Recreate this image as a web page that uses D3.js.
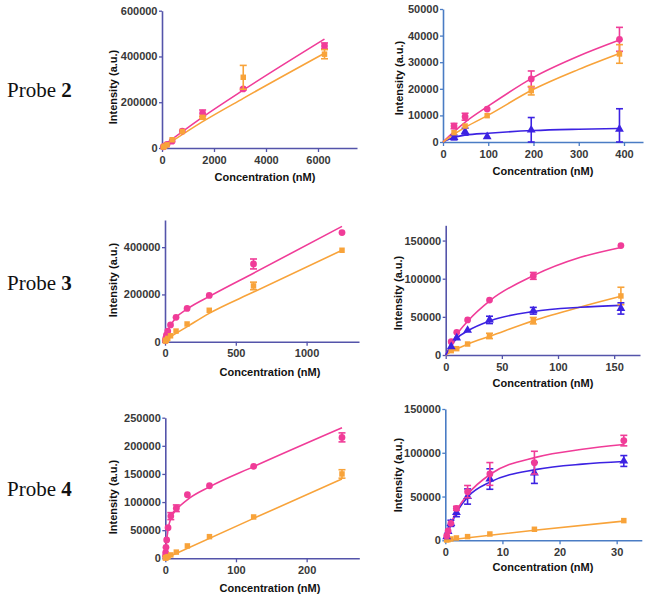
<!DOCTYPE html>
<html><head><meta charset="utf-8">
<script src="https://cdn.jsdelivr.net/npm/d3@7"></script>
<style>
html,body{margin:0;padding:0;background:#fff;}
svg{display:block;}
</style></head>
<body>
<script>
// ---------------- DATA ----------------
const probeLabels = ["2", "3", "4"];
const xTitle = "Concentration (nM)";
const yTitle = "Intensity (a.u.)";

// Probe 2, left
const p2L_x = [48.8, 97.6, 195, 390, 781, 1562, 3125, 6250];
const p2L_pink = [5000, 9000, 16000, 30000, 74000, 152000, 258000, 446000];
const p2L_pinkErr = [0, 0, 0, 0, 0, 14000, 4000, 13000];
const p2L_orange = [4000, 8000, 14000, 36000, 72000, 134000, 309000, 410000];
const p2L_orangeErr = [0, 0, 0, 0, 0, 4000, 52000, 20000];
const p2L_pinkFitX = [0, 1562, 3125, 6250];
const p2L_pinkFitY = [6000, 135000, 253000, 476000];
const p2L_orangeFitX = [0, 1562, 3125, 6250];
const p2L_orangeFitY = [0, 115000, 217000, 414000];
const p2L_xTicks = [0, 2000, 4000, 6000];
const p2L_yTicks = [0, 200000, 400000, 600000];

// Probe 2, right
const p2R_x = [24.4, 48.8, 97.6, 195, 390];
const p2R_pink = [6000, 9500, 12400, 23700, 38600];
const p2R_pinkErr = [1000, 1300, 0, 3000, 4500];
const p2R_orange = [3500, 6000, 9900, 19300, 33100];
const p2R_orangeErr = [0, 0, 0, 1600, 3500];
const p2R_blue = [1700, 3900, 2000, 4500, 4800];
const p2R_blueErr = [900, 1300, 0, 4700, 7700];
const p2R_pinkFitX = [0, 25, 50, 100, 200, 300, 390];
const p2R_pinkFitY = [0, 4000, 7600, 13500, 24300, 32300, 38300];
const p2R_orangeFitX = [0, 25, 50, 100, 200, 300, 390];
const p2R_orangeFitY = [0, 3000, 5600, 10100, 19800, 27300, 33300];
const p2R_blueFitX = [0, 25, 50, 100, 200, 300, 390];
const p2R_blueFitY = [0, 1800, 2600, 3300, 4300, 4800, 5100];
const p2R_xTicks = [0, 100, 200, 300, 400];
const p2R_yTicks = [0, 10000, 20000, 30000, 40000, 50000];

// Probe 3, left
const p3L_x = [2.4, 4.9, 9.8, 19.5, 39, 78, 156, 312.5, 625, 1250];
const p3L_pink = [5000, 14000, 28000, 45000, 71000, 103000, 141000, 196000, 329000, 462000];
const p3L_pinkErr = [0, 0, 0, 0, 0, 0, 0, 0, 21000, 0];
const p3L_orange = [3000, 5000, 7000, 14000, 25000, 45000, 75000, 133000, 236000, 387000];
const p3L_orangeErr = [0, 0, 0, 0, 0, 0, 0, 0, 16000, 0];
const p3L_pinkFitX = [0, 5, 10, 20, 40, 80, 160, 320, 625, 1250];
const p3L_pinkFitY = [0, 14000, 26000, 44000, 70000, 103000, 140000, 194000, 290000, 488000];
const p3L_orangeFitX = [0, 10, 20, 40, 80, 160, 312, 625, 1250];
const p3L_orangeFitY = [0, 6000, 11000, 20000, 36000, 65000, 120000, 210000, 387000];
const p3L_xTicks = [0, 500, 1000];
const p3L_yTicks = [0, 200000, 400000];

// Probe 3, right
const p3R_x = [4.9, 9.8, 19.5, 39, 78, 156];
const p3R_pink = [17500, 29700, 46000, 72000, 103700, 143500];
const p3R_pinkErr = [0, 0, 0, 0, 4500, 0];
const p3R_orange = [5700, 8300, 14400, 25000, 45000, 77400];
const p3R_orangeErr = [0, 0, 0, 3500, 4200, 11400];
const p3R_blue = [11000, 22300, 32400, 46000, 58000, 61000];
const p3R_blueErr = [0, 0, 0, 4800, 4400, 7400];
const p3R_pinkFitX = [0, 5, 10, 20, 40, 78, 120, 156];
const p3R_pinkFitY = [0, 14000, 27000, 45000, 72000, 104000, 128000, 141000];
const p3R_orangeFitX = [0, 5, 10, 20, 40, 78, 120, 156];
const p3R_orangeFitY = [0, 4500, 8000, 14500, 25000, 45000, 63000, 77000];
const p3R_blueFitX = [0, 5, 10, 20, 40, 78, 120, 156];
const p3R_blueFitY = [0, 12500, 22000, 32000, 45000, 57000, 62500, 65000];
const p3R_xTicks = [0, 50, 100, 150];
const p3R_yTicks = [0, 50000, 100000, 150000];

// Probe 4, left
const p4L_x = [0.24, 0.49, 0.98, 1.95, 3.9, 7.8, 15.6, 31.25, 62.5, 125, 250];
const p4L_pink = [4000, 10000, 19500, 32600, 54500, 75000, 89000, 113000, 129000, 163500, 215000];
const p4L_pinkErr = [0, 0, 0, 0, 0, 6200, 5900, 0, 0, 0, 8000];
const p4L_orange = [500, 800, 1200, 1800, 3000, 6000, 11000, 22000, 38500, 73500, 150000];
const p4L_orangeErr = [0, 0, 0, 0, 0, 0, 0, 0, 0, 0, 7500];
const p4L_pinkFitX = [0, 1, 2, 4, 8, 16, 31, 62.5, 125, 250];
const p4L_pinkFitY = [0, 18000, 32000, 52000, 72000, 87000, 104000, 127000, 163000, 232000];
const p4L_orangeFitX = [0, 125, 250];
const p4L_orangeFitY = [0, 71000, 141000];
const p4L_xTicks = [0, 100, 200];
const p4L_yTicks = [0, 50000, 100000, 150000, 200000, 250000];

// Probe 4, right
const p4R_x = [0.24, 0.49, 0.98, 1.95, 3.9, 7.8, 15.6, 31.25];
const p4R_pink = [5000, 10700, 19400, 36500, 55600, 75800, 88700, 113900];
const p4R_pinkErr = [0, 0, 0, 2300, 7000, 13000, 13000, 6000];
const p4R_orange = [400, 800, 1500, 2700, 4200, 7200, 12600, 22500];
const p4R_orangeErr = [0, 0, 0, 0, 0, 0, 0, 0];
const p4R_blue = [4000, 10000, 19400, 31700, 50000, 70000, 77000, 90600];
const p4R_blueErr = [0, 0, 3500, 4700, 8700, 11700, 12000, 6200];
const p4R_pinkFitX = [0, 0.5, 1, 2, 4, 8, 16, 24, 31.25];
const p4R_pinkFitY = [0, 10000, 19000, 34000, 53000, 76000, 95000, 104000, 109500];
const p4R_orangeFitX = [0, 15.6, 31.25];
const p4R_orangeFitY = [0, 11500, 22000];
const p4R_blueFitX = [0, 0.5, 1, 2, 4, 8, 16, 24, 31.25];
const p4R_blueFitY = [0, 10000, 18000, 32000, 50000, 67000, 81000, 87000, 90000];
const p4R_xTicks = [0, 10, 20, 30];
const p4R_yTicks = [0, 50000, 100000, 150000];

// ---------------- STYLE / LAYOUT ----------------
const PINK = "#f03c98", ORANGE = "#f8a33a", BLUE = "#3c22e2";
const PURPLE_AXIS = "#5454aa", BLUE_AXIS = "#4a7cc4";

const W = 649, H = 600;
const svg = d3.select("body").append("svg").attr("width", W).attr("height", H)
  .attr("font-family", "'Liberation Sans', Arial, Helvetica, sans-serif");

function zip(xs, ys) { return xs.map((x, i) => [x, ys[i]]); }

const panels = [
  { xDom: [0, 7500], xRange: [162, 357], yDom: [0, 600000], yRange: [148, 10.7], axis: PURPLE_AXIS,
    xTicks: p2L_xTicks, yTicks: p2L_yTicks, yLab: [113, 87], xLab: [265, 181],
    series: [
      { c: PINK, shape: "circle", x: p2L_x, y: p2L_pink, e: p2L_pinkErr, fx: p2L_pinkFitX, fy: p2L_pinkFitY },
      { c: ORANGE, shape: "square", x: p2L_x, y: p2L_orange, e: p2L_orangeErr, fx: p2L_orangeFitX, fy: p2L_orangeFitY }
    ] },
  { xDom: [0, 442], xRange: [443, 643], yDom: [0, 50000], yRange: [142, 9], axis: BLUE_AXIS,
    xTicks: p2R_xTicks, yTicks: p2R_yTicks, yLab: [399, 78], xLab: [543, 175],
    series: [
      { c: BLUE, shape: "triangle", x: p2R_x, y: p2R_blue, e: p2R_blueErr, fx: p2R_blueFitX, fy: p2R_blueFitY },
      { c: PINK, shape: "circle", x: p2R_x, y: p2R_pink, e: p2R_pinkErr, fx: p2R_pinkFitX, fy: p2R_pinkFitY },
      { c: ORANGE, shape: "square", x: p2R_x, y: p2R_orange, e: p2R_orangeErr, fx: p2R_orangeFitX, fy: p2R_orangeFitY }
    ] },
  { xDom: [0, 1370], xRange: [165, 359], yDom: [0, 515000], yRange: [341.7, 220], axis: PURPLE_AXIS,
    xTicks: p3L_xTicks, yTicks: p3L_yTicks, yLab: [113, 280], xLab: [270, 376],
    series: [
      { c: PINK, shape: "circle", x: p3L_x, y: p3L_pink, e: p3L_pinkErr, fx: p3L_pinkFitX, fy: p3L_pinkFitY },
      { c: ORANGE, shape: "square", x: p3L_x, y: p3L_orange, e: p3L_orangeErr, fx: p3L_orangeFitX, fy: p3L_orangeFitY }
    ] },
  { xDom: [0, 173], xRange: [445.7, 640], yDom: [0, 170000], yRange: [355, 225.3], axis: PURPLE_AXIS,
    xTicks: p3R_xTicks, yTicks: p3R_yTicks, yLab: [398, 293], xLab: [543, 387],
    series: [
      { c: PINK, shape: "circle", x: p3R_x, y: p3R_pink, e: p3R_pinkErr, fx: p3R_pinkFitX, fy: p3R_pinkFitY },
      { c: ORANGE, shape: "square", x: p3R_x, y: p3R_orange, e: p3R_orangeErr, fx: p3R_orangeFitX, fy: p3R_orangeFitY },
      { c: BLUE, shape: "triangle", x: p3R_x, y: p3R_blue, e: p3R_blueErr, fx: p3R_blueFitX, fy: p3R_blueFitY }
    ] },
  { xDom: [0, 274.5], xRange: [165.3, 359.3], yDom: [0, 250000], yRange: [558.3, 417.7], axis: PURPLE_AXIS,
    xTicks: p4L_xTicks, yTicks: p4L_yTicks, yLab: [113, 497], xLab: [270, 592],
    series: [
      { c: PINK, shape: "circle", x: p4L_x, y: p4L_pink, e: p4L_pinkErr, fx: p4L_pinkFitX, fy: p4L_pinkFitY },
      { c: ORANGE, shape: "square", x: p4L_x, y: p4L_orange, e: p4L_orangeErr, fx: p4L_orangeFitX, fy: p4L_orangeFitY }
    ] },
  { xDom: [0, 34.4], xRange: [445.3, 641.8], yDom: [0, 150000], yRange: [540.3, 409], axis: BLUE_AXIS,
    xTicks: p4R_xTicks, yTicks: p4R_yTicks, yLab: [398, 475], xLab: [543, 571],
    series: [
      { c: ORANGE, shape: "square", x: p4R_x, y: p4R_orange, e: p4R_orangeErr, fx: p4R_orangeFitX, fy: p4R_orangeFitY },
      { c: BLUE, shape: "triangle", x: p4R_x, y: p4R_blue, e: p4R_blueErr, fx: p4R_blueFitX, fy: p4R_blueFitY },
      { c: PINK, shape: "circle", x: p4R_x, y: p4R_pink, e: p4R_pinkErr, fx: p4R_pinkFitX, fy: p4R_pinkFitY }
    ] }
];

const fmt = d3.format("d");

panels.forEach(p => {
  const g = svg.append("g");
  const x = d3.scaleLinear().domain(p.xDom).range(p.xRange);
  const y = d3.scaleLinear().domain(p.yDom).range(p.yRange);

  // axes
  const xa = g.append("g").attr("transform", `translate(0,${p.yRange[0]})`)
    .call(d3.axisBottom(x).tickValues(p.xTicks).tickFormat(fmt).tickSize(4).tickSizeOuter(0).tickPadding(4));
  const ya = g.append("g").attr("transform", `translate(${p.xRange[0]},0)`)
    .call(d3.axisLeft(y).tickValues(p.yTicks).tickFormat(fmt).tickSize(3).tickSizeOuter(0).tickPadding(1.5));
  [xa, ya].forEach(a => {
    a.select(".domain").attr("stroke", p.axis).attr("stroke-width", 1.6);
    a.selectAll(".tick line").attr("stroke", p.axis).attr("stroke-width", 1.3);
    a.selectAll(".tick text").attr("fill", "#383838").attr("font-size", 11)
      .attr("font-weight", "bold").attr("font-family", "'Liberation Sans', Arial, sans-serif");
  });

  // titles
  g.append("text").attr("x", p.xLab[0]).attr("y", p.xLab[1]).attr("text-anchor", "middle")
    .attr("font-size", 11).attr("font-weight", "bold").attr("fill", "#111").text(xTitle);
  g.append("text").attr("transform", `translate(${p.yLab[0]},${p.yLab[1]}) rotate(-90)`)
    .attr("text-anchor", "middle").attr("dy", "0.35em")
    .attr("font-size", 11).attr("font-weight", "bold").attr("fill", "#111").text(yTitle);

  // fit lines
  const line = d3.line().x(d => x(d[0])).y(d => y(d[1])).curve(d3.curveMonotoneX);
  p.series.forEach(s => {
    g.append("path").datum(zip(s.fx, s.fy)).attr("d", line)
      .attr("fill", "none").attr("stroke", s.c).attr("stroke-width", 1.6);
  });

  // error bars and markers
  p.series.forEach(s => {
    const pts = s.x.map((xv, i) => ({ x: xv, y: s.y[i], e: s.e[i] }));
    const eb = g.append("g").attr("stroke", s.c).attr("stroke-width", 1.6);
    pts.filter(d => d.e > 0).forEach(d => {
      const cx = x(d.x), y1 = y(d.y + d.e), y2 = y(Math.max(0, d.y - d.e));
      eb.append("line").attr("x1", cx).attr("x2", cx).attr("y1", y1).attr("y2", y2);
      eb.append("line").attr("x1", cx - 3.5).attr("x2", cx + 3.5).attr("y1", y1).attr("y2", y1);
      eb.append("line").attr("x1", cx - 3.5).attr("x2", cx + 3.5).attr("y1", y2).attr("y2", y2);
    });
    const symType = s.shape === "circle" ? d3.symbolCircle : s.shape === "square" ? d3.symbolSquare : d3.symbolTriangle;
    const size = s.shape === "circle" ? 36 : s.shape === "square" ? 30 : 34;
    g.append("g").selectAll("path").data(pts).join("path")
      .attr("transform", d => `translate(${x(d.x)},${y(d.y)})`)
      .attr("d", d3.symbol().type(symType).size(size))
      .attr("fill", s.c);
  });
});

// Probe labels
const probeY = [97, 290, 496];
probeLabels.forEach((lab, i) => {
  const t = svg.append("text").attr("x", 7).attr("y", probeY[i])
    .attr("font-family", "'Liberation Serif', 'Times New Roman', serif").attr("font-size", 21).attr("fill", "#111");
  t.append("tspan").text("Probe ");
  t.append("tspan").attr("font-weight", "bold").text(lab);
});
</script>
</body></html>
